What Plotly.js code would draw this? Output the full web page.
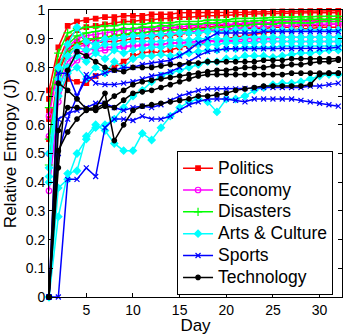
<!DOCTYPE html>
<html>
<head>
<meta charset="utf-8">
<script src="https://cdn.plot.ly/plotly-3.0.1.min.js"></script>
<style>html,body{margin:0;padding:0;background:#fff;}#chart{width:344px;height:335px;}</style>
</head>
<body>
<div id="chart"></div>
<script>
const days = Array.from({length: 32}, (_, i) => i + 1);
const categories = ["Politics", "Economy", "Disasters", "Arts & Culture", "Sports", "Technology"];
const xTicks = [5, 10, 15, 20, 25, 30];
const yTicks = [0, 0.1, 0.2, 0.3, 0.4, 0.5, 0.6, 0.7, 0.8, 0.9, 1];

// Politics
const politics1 = [0.72,0.87,0.945,0.96,0.965,0.97,0.975,0.975,0.98,0.98,0.98,0.985,0.985,0.985,0.99,0.99,0.99,0.99,0.99,0.99,0.992,0.992,0.993,0.993,0.994,0.995,0.995,0.996,0.996,0.997,0.997,0.997];
const politics2 = [0.69,0.82,0.90,0.93,0.94,0.945,0.95,0.955,0.96,0.96,0.965,0.965,0.97,0.97,0.975,0.975,0.978,0.98,0.98,0.982,0.984,0.985,0.986,0.987,0.988,0.988,0.989,0.99,0.99,0.99,0.99,0.99];
const politics3 = [0.55,0.78,0.86,0.89,0.89,0.90,0.905,0.91,0.915,0.915,0.92,0.925,0.93,0.93,0.935,0.935,0.94,0.94,0.945,0.945,0.95,0.95,0.95,0.955,0.955,0.96,0.96,0.96,0.965,0.965,0.965,0.97];
const politics4 = [0.62,0.70,0.76,0.75,0.745,0.77,0.78,0.80,0.82,0.84,0.85,0.855,0.85,0.86,0.87,0.875,0.88,0.89,0.895,0.90,0.905,0.91,0.915,0.92,0.925,0.93,0.93,0.935,0.935,0.94,0.94,0.94];
const politics5 = [0.65,0.80,0.87,0.88,0.885,0.885,0.89,0.89,0.895,0.90,0.90,0.905,0.91,0.91,0.915,0.92,0.92,0.925,0.93,0.93,0.93,0.935,0.935,0.935,0.94,0.94,0.94,0.945,0.945,0.945,0.95,0.95];
// Economy
const economy1 = [0.63,0.80,0.87,0.90,0.91,0.915,0.92,0.925,0.93,0.93,0.935,0.935,0.94,0.94,0.94,0.945,0.945,0.95,0.95,0.95,0.95,0.955,0.955,0.955,0.955,0.96,0.96,0.96,0.96,0.96,0.96,0.96];
const economy2 = [0.56,0.75,0.84,0.87,0.88,0.89,0.895,0.90,0.905,0.91,0.91,0.915,0.915,0.92,0.92,0.925,0.925,0.93,0.93,0.935,0.935,0.94,0.94,0.94,0.945,0.945,0.945,0.95,0.95,0.95,0.95,0.95];
const economy3 = [0.37,0.68,0.79,0.825,0.84,0.855,0.86,0.865,0.87,0.875,0.875,0.88,0.88,0.885,0.885,0.89,0.89,0.89,0.895,0.895,0.895,0.90,0.90,0.90,0.90,0.905,0.905,0.905,0.905,0.905,0.905,0.905];
const economy4 = [0.50,0.72,0.82,0.85,0.86,0.865,0.87,0.87,0.875,0.875,0.88,0.88,0.88,0.885,0.885,0.885,0.885,0.89,0.89,0.89,0.89,0.89,0.89,0.89,0.89,0.89,0.89,0.89,0.89,0.89,0.89,0.89];
// Disasters
const disasters1 = [0.66,0.85,0.92,0.935,0.94,0.94,0.945,0.945,0.95,0.95,0.95,0.955,0.955,0.955,0.96,0.96,0.96,0.965,0.965,0.965,0.97,0.97,0.97,0.972,0.974,0.975,0.975,0.976,0.977,0.978,0.978,0.978];
const disasters2 = [0.46,0.79,0.88,0.91,0.92,0.925,0.93,0.93,0.935,0.935,0.94,0.94,0.945,0.945,0.95,0.95,0.95,0.955,0.955,0.96,0.96,0.96,0.962,0.964,0.965,0.966,0.967,0.968,0.968,0.968,0.968,0.968];
const disasters3 = [0.55,0.74,0.85,0.88,0.90,0.90,0.905,0.91,0.915,0.92,0.92,0.925,0.925,0.93,0.93,0.93,0.935,0.935,0.94,0.94,0.945,0.945,0.95,0.95,0.95,0.955,0.955,0.955,0.955,0.96,0.96,0.96];
// Arts & Culture
const arts1 = [0.40,0.80,0.88,0.94,0.89,0.88,0.90,0.90,0.905,0.91,0.91,0.91,0.915,0.915,0.92,0.92,0.92,0.925,0.925,0.925,0.93,0.93,0.93,0.93,0.93,0.93,0.93,0.93,0.93,0.93,0.93,0.93];
const arts2 = [0.50,0.76,0.84,0.87,0.86,0.87,0.88,0.88,0.885,0.89,0.89,0.89,0.89,0.895,0.895,0.895,0.90,0.90,0.90,0.90,0.90,0.905,0.905,0.905,0.905,0.905,0.905,0.905,0.905,0.905,0.905,0.905];
const arts3 = [0.42,0.72,0.80,0.84,0.82,0.85,0.83,0.86,0.85,0.86,0.865,0.87,0.87,0.875,0.875,0.88,0.88,0.88,0.88,0.885,0.885,0.885,0.885,0.89,0.89,0.89,0.89,0.89,0.89,0.89,0.89,0.89];
const arts4 = [0.45,0.70,0.78,0.80,0.76,0.80,0.78,0.82,0.80,0.83,0.84,0.84,0.845,0.84,0.845,0.85,0.855,0.86,0.86,0.865,0.865,0.87,0.87,0.87,0.87,0.875,0.875,0.875,0.875,0.875,0.875,0.875];
const arts5 = [0,0.28,0.43,0.44,0.56,0.60,0.58,0.535,0.51,0.51,0.57,0.547,0.59,0.63,0.66,0.68,0.69,0.68,0.645,0.69,0.69,0.70,0.72,0.73,0.74,0.745,0.745,0.75,0.76,0.77,0.775,0.775];
const arts6 = [0,0.38,0.41,0.50,0.55,0.59,0.60,0.62,0.66,0.70,0.72,0.75,0.77,0.78,0.79,0.80,0.81,0.82,0.82,0.83,0.83,0.84,0.84,0.84,0.835,0.84,0.845,0.85,0.85,0.855,0.86,0.86];
// Sports
const sports1 = [0,0.78,0.78,0.70,0.76,0.77,0.78,0.79,0.80,0.80,0.81,0.815,0.82,0.825,0.84,0.86,0.885,0.90,0.92,0.92,0.92,0.92,0.92,0.925,0.925,0.925,0.925,0.925,0.925,0.925,0.925,0.925];
const sports2 = [0,0.50,0.62,0.70,0.775,0.745,0.74,0.74,0.745,0.75,0.76,0.77,0.775,0.785,0.80,0.82,0.84,0.855,0.86,0.865,0.865,0.865,0.865,0.865,0.865,0.865,0.865,0.865,0.865,0.865,0.867,0.87];
const sports3 = [0,0.62,0.64,0.65,0.66,0.675,0.675,0.66,0.65,0.66,0.665,0.66,0.67,0.685,0.70,0.71,0.72,0.725,0.725,0.725,0.725,0.727,0.727,0.73,0.73,0.73,0.73,0.73,0.735,0.735,0.74,0.745];
const sports4 = [0,0,0.41,0.41,0.45,0.42,0.59,0.62,0.62,0.615,0.63,0.62,0.62,0.63,0.65,0.67,0.68,0.69,0.69,0.69,0.685,0.68,0.69,0.69,0.69,0.69,0.69,0.685,0.68,0.675,0.67,0.665];
// Technology
const technology1 = [0,0.745,0.72,0.69,0.655,0.66,0.71,0.545,0.60,0.65,0.665,0.67,0.675,0.68,0.685,0.69,0.70,0.70,0.705,0.71,0.72,0.725,0.73,0.735,0.735,0.735,0.735,0.735,0.74,0.775,0.78,0.78];
const technology2 = [0,0.51,0.575,0.62,0.65,0.655,0.675,0.70,0.72,0.74,0.75,0.755,0.76,0.765,0.77,0.775,0.78,0.785,0.79,0.79,0.795,0.80,0.80,0.80,0.805,0.805,0.81,0.81,0.815,0.82,0.82,0.825];
const technology3 = [0,0.45,0.79,0.855,0.84,0.82,0.80,0.79,0.785,0.80,0.80,0.80,0.805,0.81,0.81,0.815,0.815,0.82,0.82,0.82,0.82,0.82,0.82,0.825,0.825,0.825,0.83,0.83,0.83,0.83,0.83,0.83];
const technology4 = [0,0.58,0.66,0.66,0.655,0.65,0.665,0.66,0.686,0.71,0.715,0.72,0.73,0.74,0.75,0.76,0.77,0.775,0.775,0.775,0.775,0.775,0.775,0.775,0.775,0.775,0.78,0.78,0.78,0.78,0.78,0.78];

const groups = [
  {name: categories[0], color: "#ff0000", symbol: "square", size: 4.5, series: [politics1, politics2, politics3, politics4, politics5]},
  {name: categories[1], color: "#ff00ff", symbol: "circle-open", size: 5.5, series: [economy1, economy2, economy3, economy4]},
  {name: categories[2], color: "#00ff00", symbol: "cross-thin-open", size: 6, series: [disasters1, disasters2, disasters3]},
  {name: categories[3], color: "#00ffff", symbol: "diamond", size: 5.5, series: [arts1, arts2, arts3, arts4, arts5, arts6]},
  {name: categories[4], color: "#0000ff", symbol: "x-thin-open", size: 5, series: [sports1, sports2, sports3, sports4]},
  {name: categories[5], color: "#000000", symbol: "circle", size: 4.5, series: [technology1, technology2, technology3, technology4]}
];

const traces = [];
groups.forEach(g => {
  g.series.forEach((s, i) => {
    traces.push({
      x: days, y: s, type: "scatter", mode: "lines+markers",
      name: '<span style="font-size:17.5px">' + g.name.replace("&", "&amp;") + '</span>',
      legendgroup: g.name, showlegend: i === 0,
      cliponaxis: false,
      line: {color: g.color, width: 1.5},
      marker: {color: g.color, symbol: g.symbol, size: g.size, line: {color: g.color, width: 1.2}}
    });
  });
});

const layout = {
  width: 344, height: 335,
  margin: {l: 49, r: 2, t: 10, b: 38},
  paper_bgcolor: "#fff", plot_bgcolor: "#fff",
  font: {family: "Liberation Sans, Arial, sans-serif", color: "#000", size: 14},
  showlegend: true,
  legend: {
    x: 0.437, y: 0.508, xanchor: "left", yanchor: "top",
    bgcolor: "#fff", bordercolor: "#000", borderwidth: 1,
    font: {size: 14.5, color: "#000"}, tracegroupgap: 0, itemwidth: 30
  },
  xaxis: {
    range: [1, 32.4], tickvals: xTicks, ticktext: xTicks.map(String),
    ticks: "inside", ticklen: 4, tickcolor: "#000", mirror: "ticks",
    showline: true, linecolor: "#000", linewidth: 1, showgrid: false, zeroline: false,
    tickfont: {size: 14},
    title: {text: "Day", font: {size: 17}, standoff: 0}
  },
  yaxis: {
    range: [0, 1], tickvals: yTicks, ticktext: yTicks.map(String),
    ticks: "inside", ticklen: 4, tickcolor: "#000", mirror: "ticks",
    showline: true, linecolor: "#000", linewidth: 1, showgrid: false, zeroline: false,
    tickfont: {size: 14},
    title: {text: "Relative Entropy (J)", font: {size: 17}, standoff: 4}
  }
};

Plotly.newPlot("chart", traces, layout, {displayModeBar: false, staticPlot: true});
</script>
</body>
</html>
